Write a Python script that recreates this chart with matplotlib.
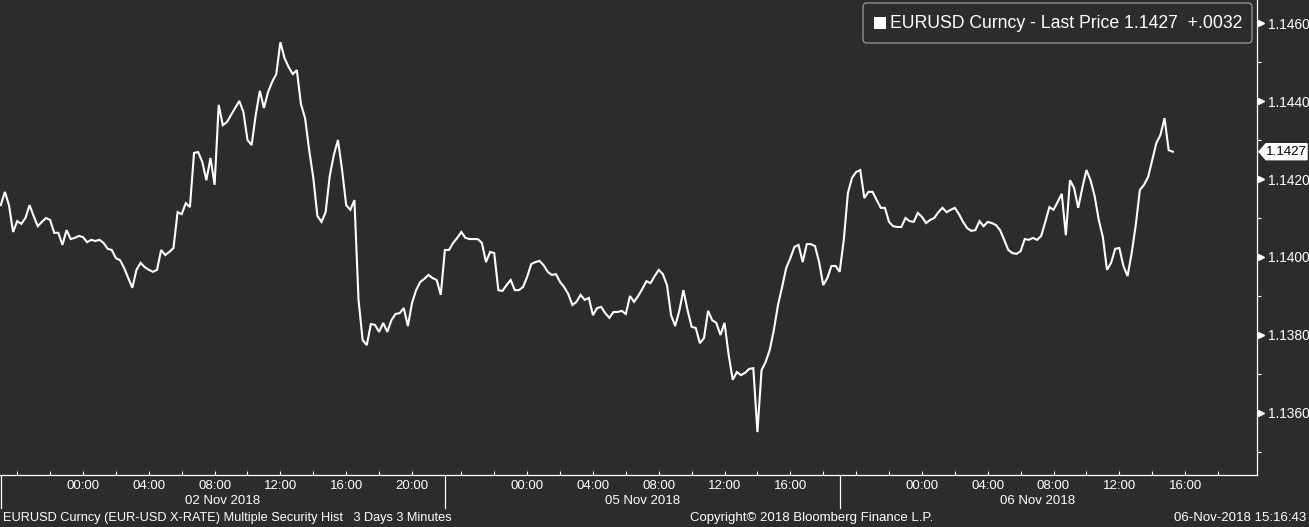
import numpy as np
import pandas as pd
import matplotlib
matplotlib.use("Agg")
import matplotlib.pyplot as plt
from matplotlib import transforms
from matplotlib.patches import FancyBboxPatch, Rectangle, Polygon

# ---------------- data ----------------
session_starts = ["2018-11-01 19:00", "2018-11-04 19:00", "2018-11-05 19:00"]
session_days = ["2018-11-02", "2018-11-05", "2018-11-06"]
session_hours = [27, 24, 24]
session_dates = ["02 Nov 2018", "05 Nov 2018", "06 Nov 2018"]
step_minutes = 15

s1_prices = [1.14133, 1.14167, 1.14133, 1.14064, 1.14092, 1.14085, 1.14100, 1.14133, 1.14105, 1.14079,
             1.14090, 1.14100, 1.14095, 1.14062, 1.14062, 1.14031, 1.14069, 1.14046, 1.14049, 1.14054,
             1.14051, 1.14038, 1.14044, 1.14041, 1.14044, 1.14036, 1.14021, 1.14018, 1.13997, 1.13992,
             1.13972, 1.13946, 1.13921, 1.13967, 1.13985, 1.13974, 1.13967, 1.13962, 1.13967, 1.14018,
             1.14005, 1.14013, 1.14023, 1.14115, 1.14110, 1.14138, 1.14128, 1.14267, 1.14269, 1.14244,
             1.14197, 1.14254, 1.14185, 1.14390, 1.14338, 1.14346, 1.14364, 1.14382, 1.14400, 1.14372,
             1.14300, 1.14287, 1.14364, 1.14426, 1.14382, 1.14423, 1.14449, 1.14469, 1.14551, 1.14510,
             1.14487, 1.14469, 1.14479, 1.14392, 1.14356, 1.14274, 1.14203, 1.14105, 1.14090, 1.14115,
             1.14208, 1.14262, 1.14300, 1.14223, 1.14133, 1.14121, 1.14146, 1.13890, 1.13787, 1.13774,
             1.13828, 1.13826, 1.13808, 1.13831, 1.13808, 1.13838, 1.13854, 1.13856, 1.13869, 1.13823,
             1.13882, 1.13915, 1.13936, 1.13944, 1.13954, 1.13946, 1.13941, 1.13903]
s2_prices = [1.14018, 1.14018, 1.14036, 1.14049, 1.14064, 1.14049, 1.14046, 1.14046, 1.14046, 1.14036,
             1.13987, 1.14013, 1.14010, 1.13915, 1.13913, 1.13928, 1.13941, 1.13915, 1.13915, 1.13923,
             1.13949, 1.13982, 1.13987, 1.13990, 1.13979, 1.13962, 1.13954, 1.13956, 1.13936, 1.13923,
             1.13905, 1.13877, 1.13885, 1.13903, 1.13890, 1.13895, 1.13851, 1.13869, 1.13872, 1.13856,
             1.13844, 1.13859, 1.13859, 1.13862, 1.13854, 1.13900, 1.13885, 1.13900, 1.13918, 1.13938,
             1.13933, 1.13951, 1.13967, 1.13956, 1.13928, 1.13851, 1.13823, 1.13862, 1.13915, 1.13864,
             1.13821, 1.13818, 1.13779, 1.13792, 1.13862, 1.13838, 1.13831, 1.13800, 1.13831, 1.13749,
             1.13685, 1.13705, 1.13697, 1.13703, 1.13713, 1.13715, 1.13551, 1.13710, 1.13731, 1.13762,
             1.13813, 1.13877, 1.13923, 1.13972, 1.13997, 1.14026, 1.14031, 1.13987, 1.14033, 1.14033,
             1.14028, 1.13987, 1.13928, 1.13946, 1.13977, 1.13977]
s3_prices = [1.13962, 1.14044, 1.14164, 1.14203, 1.14218, 1.14223, 1.14151, 1.14167, 1.14167, 1.14146,
             1.14126, 1.14126, 1.14090, 1.14079, 1.14077, 1.14077, 1.14100, 1.14092, 1.14090, 1.14113,
             1.14103, 1.14087, 1.14095, 1.14100, 1.14115, 1.14126, 1.14115, 1.14121, 1.14126, 1.14110,
             1.14090, 1.14074, 1.14067, 1.14069, 1.14092, 1.14079, 1.14090, 1.14087, 1.14082, 1.14069,
             1.14044, 1.14018, 1.14010, 1.14008, 1.14015, 1.14046, 1.14044, 1.14049, 1.14044, 1.14054,
             1.14090, 1.14128, 1.14121, 1.14141, 1.14162, 1.14056, 1.14197, 1.14177, 1.14126, 1.14177,
             1.14223, 1.14197, 1.14156, 1.14095, 1.14051, 1.13967, 1.13985, 1.14021, 1.14023, 1.13977,
             1.13951, 1.14010, 1.14082, 1.14172, 1.14185, 1.14205, 1.14249, 1.14292, 1.14313, 1.14356,
             1.14274, 1.14270]

last_price = 1.1427
last_change = "+.0032"
y_major = [1.1360, 1.1380, 1.1400, 1.1420, 1.1440, 1.1460]
y_minor = [1.1350, 1.1370, 1.1390, 1.1410, 1.1430, 1.1450]
ylim = (1.13441, 1.14659)

title_text = "EURUSD Curncy - Last Price 1.1427  +.0032"
footer_left = "EURUSD Curncy (EUR-USD X-RATE) Multiple Security Hist   3 Days 3 Minutes"
footer_mid = "Copyright\u00a9 2018 Bloomberg Finance L.P."
footer_right = "06-Nov-2018 15:16:43"

# ---------------- build positions (session-compressed hours) ----------------
offsets = np.concatenate([[0], np.cumsum(session_hours)[:-1]])
all_pos, all_price = [], []
for off, prices in zip(offsets, [s1_prices, s2_prices, s3_prices]):
    n = len(prices)
    all_pos.extend(off + np.arange(n) * step_minutes / 60.0)
    all_price.extend(prices)
all_pos = np.array(all_pos)
all_price = np.array(all_price)

# ---------------- figure ----------------
W, H = 1309, 527
BG = "#2c2c2c"
FONT = "Liberation Sans"
plt.rcParams["font.family"] = [FONT, "DejaVu Sans"]

fig = plt.figure(figsize=(W / 100, H / 100), dpi=100, facecolor=BG)
ax = fig.add_axes([0, 52 / H, 1257 / W, 475 / H], facecolor=BG)

ax.plot(all_pos, all_price, color="white", lw=1.5, solid_joinstyle="miter")

ax.set_xlim(-0.046, 76.37)
ax.set_ylim(*ylim)

for s in ["left", "top"]:
    ax.spines[s].set_visible(False)
for s in ["bottom", "right"]:
    ax.spines[s].set_color("white")
    ax.spines[s].set_linewidth(0.9)

# y axis on right
ax.yaxis.tick_right()
ax.set_yticks(y_major)
ax.set_yticks(y_minor, minor=True)
ax.set_yticklabels([f"{v:.4f}" for v in y_major])
ax.tick_params(axis="y", which="major", length=0, pad=8, labelsize=9.9, labelcolor="white")
ax.tick_params(axis="y", which="minor", length=3, width=0.8, color="white", direction="out")
tri_trans = transforms.blended_transform_factory(ax.transAxes, ax.transData) + \
    transforms.ScaledTranslation(4 / 100, 0, fig.dpi_scale_trans)
ax.plot([1.0] * len(y_major), y_major, linestyle="none", marker=">", markersize=4.5,
        color="white", transform=tri_trans, clip_on=False)

# x axis: ticks every 2h, labels every 4h (within the trading day), date labels per session
tick_pos, lab_pos, lab_txt = [], [], []
for start, day, hours, off in zip(session_starts, session_days, session_hours, offsets):
    t0 = pd.Timestamp(start)
    d0 = pd.Timestamp(day)
    for h in range(1, hours):
        t = t0 + pd.Timedelta(hours=h)
        p = off + h
        if p > 75:
            continue
        if t.hour % 2 == 0:
            tick_pos.append(p)
            if t.hour % 4 == 0 and t.normalize() == d0:
                lab_pos.append(p)
                lab_txt.append(t.strftime("%H:%M"))
ax.set_xticks(tick_pos)
ax.set_xticklabels([])
ax.tick_params(axis="x", which="major", length=3, width=0.8, color="white", direction="in")

xt = ax.get_xaxis_transform()
for p, txt in zip(lab_pos, lab_txt):
    ax.text(p, -11 / 475, txt, transform=xt, ha="center", va="center",
            color="white", fontsize=9.5, clip_on=False)
for off, hours, d in zip(offsets, session_hours, session_dates):
    ax.text(off + hours / 2, -26 / 475, d, transform=xt, ha="center", va="center",
            color="white", fontsize=9.5, clip_on=False)
    ax.plot([off, off], [0, -33 / 475], transform=xt, color="white", lw=0.9, clip_on=False)

# last price marker
fig.canvas.draw()
ydisp = ax.transData.transform((0, last_price))[1]
xdisp = ax.transAxes.transform((1, 0))[0]
poly = Polygon([(xdisp + 2, ydisp), (xdisp + 9, ydisp + 8), (xdisp + 50, ydisp + 8),
                (xdisp + 50, ydisp - 8), (xdisp + 9, ydisp - 8)], closed=True,
               facecolor="white", edgecolor="white", transform=transforms.IdentityTransform(),
               clip_on=False)
fig.add_artist(poly)
fig.text(xdisp + 9, ydisp, f"{last_price:.4f}", transform=transforms.IdentityTransform(),
         ha="left", va="center", color="black", fontsize=9.6)

# legend box
box = FancyBboxPatch((863, H - 43), 389, 40, boxstyle="round,pad=0,rounding_size=4",
                     facecolor=BG, edgecolor="#9a9a9a", lw=0.9,
                     transform=transforms.IdentityTransform())
fig.add_artist(box)
fig.add_artist(Rectangle((874, H - 29), 12, 12, facecolor="white", edgecolor="none",
                         transform=transforms.IdentityTransform()))
fig.text(890, H - 23, title_text, transform=transforms.IdentityTransform(),
         ha="left", va="center", color="white", fontsize=12.7)

# footer
fig.text(3 / W, 9 / H, footer_left, ha="left", va="center", color="white", fontsize=9.15)
fig.text(812 / W, 9 / H, footer_mid, ha="center", va="center", color="white", fontsize=9.5)
fig.text(1306 / W, 9 / H, footer_right, ha="right", va="center", color="white", fontsize=9.5)

fig.savefig("out.png", dpi=100, facecolor=BG)
